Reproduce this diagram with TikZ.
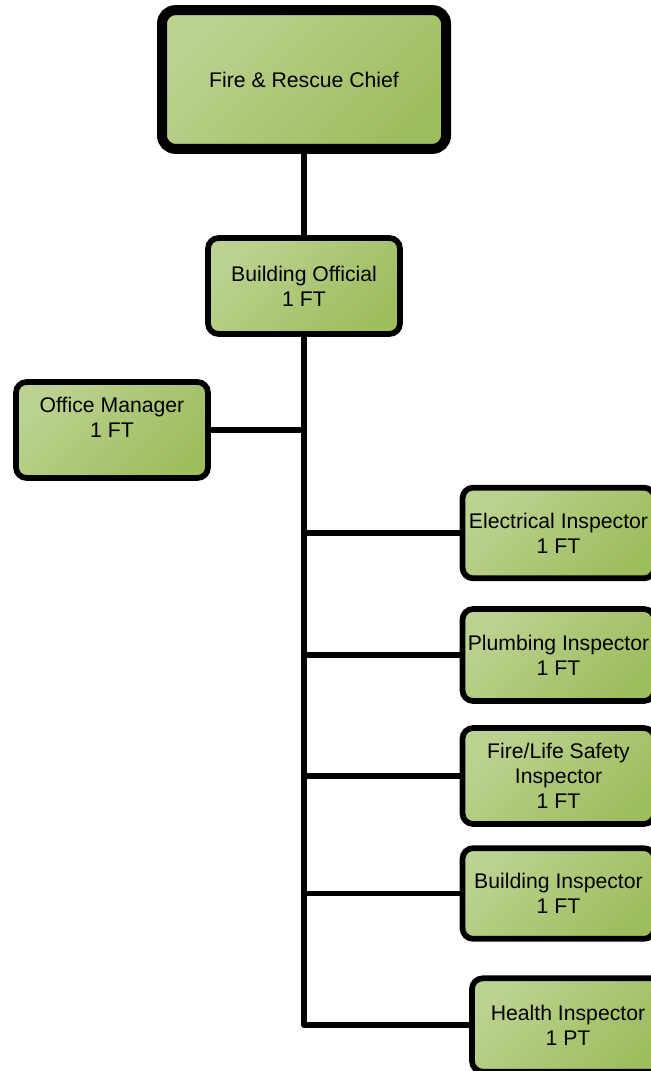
\documentclass[tikz,border=0pt]{standalone}
\usepackage{fontspec}
\setmainfont{Liberation Sans}
\usepackage{tikz}
\definecolor{oglight}{RGB}{188,210,144}
\definecolor{ogdark}{RGB}{158,189,94}
\newcommand{\boxline}{4.3pt}

\begin{document}
\begin{tikzpicture}[x=0.75pt,y=-0.75pt,
    post/.style={draw, line width=\boxline, rounded corners=8pt, align=center,
      top color=oglight, bottom color=ogdark, shading angle=45,
      minimum width=144pt, minimum height=69pt, inner sep=0pt,
      font=\fontsize{15.9}{18.75}\selectfont},
    chief/.style={post, line width=7.5pt, rounded corners=10pt,
      minimum width=213pt, minimum height=104pt},
    wire/.style={line width=3.9pt, line join=round}]
      \useasboundingbox (0,0) rectangle (650,1071);

      % boxes
      \node (chief) at (304,79.5) [chief] {Fire \& Rescue Chief};
      \node (bo) at (304,286) [post, minimum height=72pt] {Building Official\\1 FT};
      \node (om) at (112,430) [post, minimum height=72pt] {Office Manager\\1 FT\\\mbox{}};
      \node (el) at (558.5,533) [post, minimum height=68pt] {Electrical Inspector\\1 FT};
      \node (pl) at (558.5,655) [post] {Plumbing Inspector\\1 FT};
      \node (fl) at (558.5,776) [post, minimum height=72pt] {Fire/Life Safety\\Inspector\\1 FT};
      \node (bi) at (558.5,893.5) [post, minimum height=68pt] {Building Inspector\\1 FT};
      \node (hi) at (568,1025) [post, minimum height=70pt] {Health Inspector\\1 PT};

      % wires
      \draw[wire] (chief.south) to (bo.north);
      \draw[wire] (bo.south) |- (hi.west);
      \draw[wire] (om.east) to (om.east -| bo.south);
      \foreach \n in {el,pl,fl,bi}
      {
        \draw[wire] (\n.west -| bo.south) to (\n.west);
      }
    \end{tikzpicture}
\end{document}
